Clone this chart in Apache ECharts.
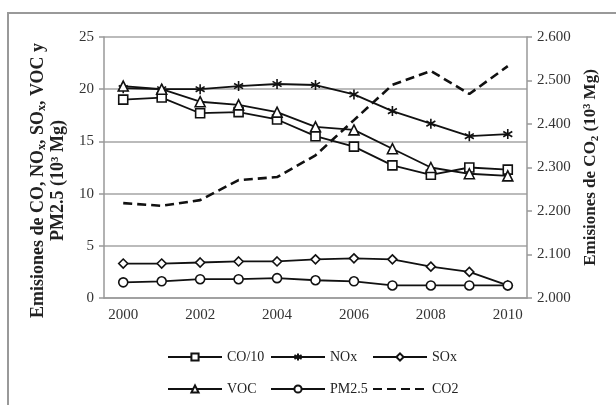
<!DOCTYPE html>
<html><head><meta charset="utf-8">
<script src="https://cdn.jsdelivr.net/npm/echarts@6/dist/echarts.min.js"></script>
<style>html,body{margin:0;padding:0;background:#fff}#c{width:616px;height:405px}</style>
</head><body><div id="c"></div>
<script>
const years = ['2000','2001','2002','2003','2004','2005','2006','2007','2008','2009','2010'];
const co10 = [19.0,19.2,17.7,17.8,17.1,15.5,14.5,12.7,11.8,12.5,12.3];
const nox  = [20.1,20.0,20.0,20.3,20.5,20.4,19.5,17.9,16.7,15.5,15.7];
const sox  = [3.3,3.3,3.4,3.5,3.5,3.7,3.8,3.7,3.0,2.5,1.2];
const voc  = [20.3,20.0,18.8,18.5,17.8,16.4,16.1,14.3,12.5,11.9,11.7];
const pm25 = [1.5,1.6,1.8,1.8,1.9,1.7,1.6,1.2,1.2,1.2,1.2];
const co2  = [2218,2212,2225,2271,2278,2328,2409,2490,2522,2469,2533];
const leftTicks = {min:0, max:25, interval:5};
const rightTicks = {min:2000, max:2600, interval:100};

const font = 'Liberation Serif';
const star = 'path://M0,-5L0,5M-4.5,-2.6L4.5,2.6M-4.5,2.6L4.5,-2.6';
function ser(name, data, symbol, size){
  return {name, type:'line', data, symbol, symbolSize:size, symbolKeepAspect:true,
    lineStyle:{color:'#111', width:1.8}, itemStyle:{color:'#fff', borderColor:'#111', borderWidth:1.6},
    emphasis:{disabled:true}};
}
const s = [
  ser('CO/10', co10, 'rect', 9),
  ser('NOx', nox, star, 10),
  ser('SOx', sox, 'diamond', 9),
  ser('VOC', voc, 'triangle', 10),
  ser('PM2.5', pm25, 'circle', 9),
  {name:'CO2', type:'line', data:co2, yAxisIndex:1, showSymbol:false, symbol:'none',
   lineStyle:{color:'#111', width:2.6, type:[9,5]}, itemStyle:{color:'#111'}}
];
s[1].itemStyle = {color:'#111', borderColor:'#111', borderWidth:1.6};

const legPos = [
  ['CO/10',162,345],['NOx',265,345],['SOx',367,345],
  ['VOC',162,377],['PM2.5',265,377],['CO2',367,377]
];
const legends = legPos.map(([n,x,y])=>({
  data:[n==='CO2' ? {name:n, itemStyle:{opacity:0}} : n],
  left:x, top:y, itemWidth:54, itemHeight:9, itemGap:5,
  lineStyle:{width:2},
  textStyle:{fontFamily:font, fontSize:14, color:'#222'}, selectedMode:false}));

const chart = echarts.init(document.getElementById('c'));
chart.setOption({
  animation:false,
  backgroundColor:'#fff',
  graphic:[{type:'rect', shape:{x:8,y:13,width:620,height:400}, style:{fill:'none', stroke:'#999', lineWidth:2}}],
  grid:{left:104, right:89, top:37, bottom:107},
  legend:legends,
  xAxis:{type:'category', data:years, boundaryGap:true,
    axisLine:{lineStyle:{color:'#999', width:1.5}},
    axisTick:{interval:1, length:5, lineStyle:{color:'#999', width:1.5}},
    axisLabel:{interval:1, fontFamily:font, fontSize:15, color:'#333', margin:10}},
  yAxis:[
    {type:'value', ...leftTicks,
     axisLine:{show:true, lineStyle:{color:'#999', width:1.5}},
     axisTick:{show:true, length:5, lineStyle:{color:'#999', width:1.5}},
     splitLine:{lineStyle:{color:'#a5a5a5', width:1.5}},
     axisLabel:{fontFamily:font, fontSize:15, color:'#333', margin:10},
     name:'{b|Emisiones de CO, NO}{s|x}{b|, SO}{s|x}{b|, VOC y}\n{b|PM2.5 (10³ Mg)}',
     nameLocation:'middle', nameGap:24, nameRotate:90,
     nameTextStyle:{fontFamily:font, fontSize:18, fontWeight:'bold', color:'#222', lineHeight:20, padding:[0,26,0,0],
       rich:{b:{fontFamily:font, fontSize:18, fontWeight:'bold', color:'#222', lineHeight:20},
             s:{fontFamily:font, fontSize:12, fontWeight:'bold', color:'#222', lineHeight:20, verticalAlign:'bottom'}}}},
    {type:'value', ...rightTicks,
     axisLine:{show:true, lineStyle:{color:'#999', width:1.5}},
     axisTick:{show:true, length:5, lineStyle:{color:'#999', width:1.5}},
     splitLine:{show:false},
     axisLabel:{fontFamily:font, fontSize:15, color:'#333', margin:10,
       formatter:v=>(v/1000).toFixed(3)},
     name:'{b|Emisiones de CO}{s|2}{b| (10³ Mg)}',
     nameLocation:'middle', nameGap:54, nameRotate:90,
     nameTextStyle:{fontFamily:font, fontSize:17, fontWeight:'bold', color:'#222',
       rich:{b:{fontFamily:font, fontSize:17, fontWeight:'bold', color:'#222', lineHeight:20},
             s:{fontFamily:font, fontSize:11, fontWeight:'bold', color:'#222', lineHeight:20, verticalAlign:'bottom'}}}}
  ],
  series:s
});
</script></body></html>
